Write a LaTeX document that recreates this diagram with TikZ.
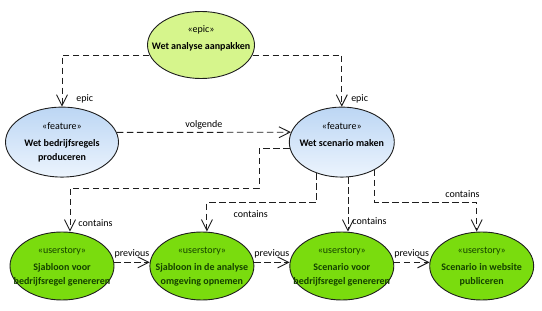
\documentclass[tikz,border=0pt]{standalone}
\usepackage{fontspec}
\setmainfont{Carlito}
\usepackage{tikz}
\usetikzlibrary{shapes.geometric, arrows.meta, positioning, calc}
\definecolor{epicfill}{RGB}{214,245,140}
\definecolor{featdark}{RGB}{188,214,244}
\definecolor{featlight}{RGB}{236,244,253}
\definecolor{storyfill}{RGB}{122,220,14}
\definecolor{storytext}{RGB}{20,66,0}
\definecolor{umlline}{RGB}{30,30,30}
\newcommand{\umlfont}{\fontsize{10}{14}\selectfont}
\newcommand{\umltext}[3]{\makebox[0pt]{\begin{tabular}{@{}c@{}}«#1»\\[3pt]\textbf{#2}\\\textbf{#3}\end{tabular}}}

\begin{document}
\begin{tikzpicture}[
    x=1pt, y=1pt,
    umlnode/.style={ellipse, draw=umlline, line width=0.9pt, inner sep=0pt, font=\umlfont},
    epicnode/.style={umlnode, fill=epicfill, minimum width=107pt, minimum height=67pt},
    featnode/.style={umlnode, top color=featdark, bottom color=featlight, minimum width=105pt, minimum height=70pt},
    storynode/.style={umlnode, fill=storyfill, text=storytext, minimum width=104pt, minimum height=68pt},
    dep/.style={draw=umlline, line width=0.9pt, dash pattern=on 6.5pt off 3.5pt, -{Straight Barb[length=11pt, width=11pt]}},
    lbl/.style={font=\umlfont, inner sep=3pt}
]
\useasboundingbox (0,0) rectangle (542,311);

% user stories, left to right
\node[storynode] (us1) at (62,45) {\umltext{userstory}{Sjabloon voor}{bedrijfsregel genereren}};
\node[storynode, right=35pt of us1] (us2) {\umltext{userstory}{Sjabloon in de analyse}{omgeving opnemen}};
\node[storynode, right=35pt of us2] (us3) {\umltext{userstory}{Scenario voor}{bedrijfsregel genereren}};
\node[storynode, right=35pt of us3] (us4) {\umltext{userstory}{Scenario in website}{publiceren}};

% features and epic
\node[featnode, minimum width=113pt, above=54pt of us1] (f1) {\umltext{feature}{Wet bedrijfsregels}{produceren}};
\node[featnode, above=54pt of us3] (f2) {\umltext{feature}{Wet scenario maken}{}};
\node[epicnode] (epic) at (201,266) {\umltext{epic}{Wet analyse aanpakken}{}};

% epic links
\draw[dep] (epic.191) -| node[lbl, pos=0.92, right=11pt] (lepic1) {epic} (f1.north);
\draw[dep] (epic.349) -| node[lbl, pos=0.92, right=6pt] (lepic2) {epic} (f2.north);

% feature links
\draw[dep] (f1.10) -- node[lbl, above] (lvolg) {volgende} (f2.169);
\draw[dep] (f2.187) -| (259,123) -| node[lbl, pos=0.9, right=5pt] (lcont1) {contains} ($(us1.north)+(8,0)$);
\draw[dep] (f2.231) |- node[lbl, pos=0.8, below=5pt] (lcont2) {contains} ($(us2.north)+(5,29)$) -- ($(us2.north)+(5,0)$);
\draw[dep] (f2.280) -- node[lbl, pos=0.8, right=1pt] (lcont3) {contains} (f2.280 |- us3.north);
\draw[dep] (f2.320) |- node[lbl, pos=0.93, above=2pt] (lcont4) {contains} ($(us4.north)+(-5,29)$) -- ($(us4.north)+(-5,0)$);

% previous chain
\draw[dep] (us1.4) -- node[lbl, above=1pt] (lprev1) {previous} (us2.176);
\draw[dep] (us2.4) -- node[lbl, above=1pt] (lprev2) {previous} (us3.176);
\draw[dep] (us3.4) -- node[lbl, above=1pt] (lprev3) {previous} (us4.176);

\end{tikzpicture}
\end{document}
